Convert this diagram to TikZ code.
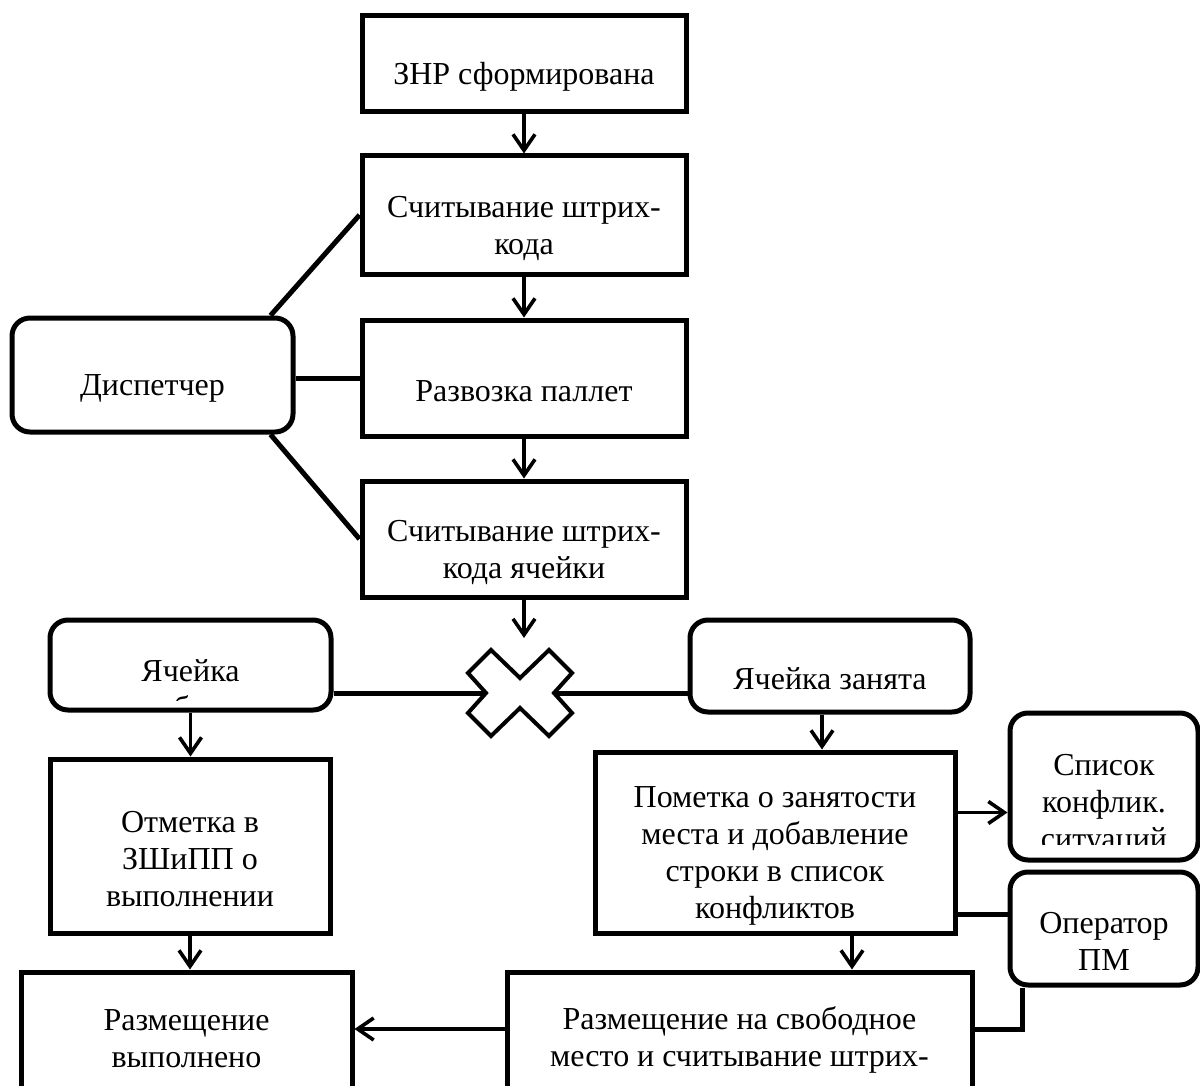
\documentclass[tikz,border=0pt]{standalone}
\usepackage{fontspec}
\setmainfont{Liberation Serif}
\usetikzlibrary{positioning,arrows.meta}

\tikzset{
  stepbox/.style={draw, line width=2.5pt, minimum width=162pt, minimum height=58pt, inner sep=0pt},
  rolebox/.style={stepbox, rounded corners=9pt},
  boxtext/.style={align=center, inner sep=0pt},
  lowtext/.style={boxtext, yshift=-6.5pt},
  link/.style={line width=2.5pt},
  flow/.style={line width=1.8pt, -{Straight Barb[length=8pt,width=11pt]}},
}

\begin{document}
\begin{tikzpicture}[x=0.5pt, y=-0.5pt, every node/.style={font=\fontsize{16pt}{18.5pt}\selectfont}]
\useasboundingbox (0,0) rectangle (1200,1086);
\clip (0,0) rectangle (1200,1086);

\node[stepbox, minimum height=48pt, label={[lowtext]center:ЗНР сформирована}] (znr) at (524,64) {};
\node[stepbox, minimum height=59pt, below=19.5pt of znr, label={[lowtext]center:Считывание штрих-\\кода}] (scan) {};
\node[stepbox, below=20.5pt of scan, label={[lowtext]center:Развозка паллет}] (haul) {};
\node[stepbox, below=20pt of haul, label={[lowtext]center:Считывание штрих-\\кода ячейки}] (scancell) {};
\node[rolebox, minimum width=140.5pt, minimum height=57pt, label={[lowtext]center:Диспетчер}] (disp) at (152.5,375) {};

\draw[flow] (znr) -- (scan);
\draw[flow] (scan) -- (haul);
\draw[flow] (haul) -- (scancell);
\draw[link] ([xshift=-12.5pt]disp.north east) -- (scan.west);
\draw[link] (disp.east |- haul) -- (haul.west);
\draw[link] ([xshift=-12.5pt]disp.south east) -- (scancell.west);

\coordinate (cross) at (520,693);
\coordinate (crosstop) at ([yshift=27.5pt]cross);
\draw[flow] (scancell.south) -- (scancell.south |- crosstop);
\draw[line width=2pt, shift={(cross)}] (0,-15) -- (29,-43) -- (52,-20) -- (34,0) -- (52,20) -- (29,43) -- (0,15)
  -- (-29,43) -- (-52,20) -- (-34,0) -- (-52,-20) -- (-29,-43) -- cycle;

\node[rolebox, minimum width=140.5pt, minimum height=45pt] (free) at (190.5,665) {};
\begin{scope}
\clip ([yshift=-4pt]free.north west) rectangle ([yshift=6pt]free.south east);
\node[boxtext] (freetext) at (190.5,692) {Ячейка\\свободна};
\end{scope}
\node[rolebox, minimum width=140pt, minimum height=46pt, label={[lowtext]center:Ячейка занята}] (busy) at (830,666) {};
\draw[link] (free.east |- cross) -- ([xshift=-17pt]cross);
\draw[link] ([xshift=17pt]cross) -- (busy.west |- cross);

\node[stepbox, minimum width=140pt, minimum height=87pt, label={[lowtext]center:Отметка в\\ЗШиПП о\\выполнении}] (note) at (190,846) {};
\node[stepbox, minimum width=165.5pt, minimum height=69pt, label={[boxtext, yshift=1.25pt]center:Размещение\\выполнено}] (done) at (186.5,1041) {};
\draw[flow] (free.south) -- (free.south |- note.north);
\draw[flow] (note.south) -- (note.south |- done.north);

\node[stepbox, minimum width=180pt, minimum height=90.5pt, label={[lowtext]center:Пометка о занятости\\места и добавление\\строки в список\\конфликтов}] (mark) at (775,842.5) {};
\node[rolebox, minimum width=94pt, minimum height=73.5pt] (conflicts) at (1104,786.5) {};
\begin{scope}
\clip (conflicts.north west) rectangle ([yshift=9pt]conflicts.south east);
\node[boxtext] (conflictstext) at (1104,805) {Список\\конфлик.\\ситуаций};
\end{scope}
\node[rolebox, minimum width=94pt, minimum height=56.5pt, label={[lowtext]center:Оператор\\ПМ}] (operator) at (1104,928.5) {};
\node[stepbox, minimum width=232.5pt, minimum height=69pt, label={[boxtext, yshift=0.75pt]center:Размещение на свободное\\место и считывание штрих-}] (place) at (739.5,1041) {};

\coordinate (downmark) at ([xshift=-4pt]busy.south);
\draw[flow] (downmark) -- (downmark |- mark.north);
\coordinate (tolist) at ([yshift=15pt]mark.east);
\draw[flow] (tolist) -- (tolist -| conflicts.west);
\coordinate (toop) at ([yshift=-36pt]mark.east);
\draw[link] (toop) -- (toop -| operator.west);
\coordinate (downplace) at ([xshift=38.5pt]mark.south);
\draw[flow] (downplace) -- (downplace |- place.north);
\draw[link] ([xshift=7.5pt]operator.south west) |- ([yshift=6pt]place.east);
\coordinate (toplace) at ([yshift=6pt]place.west);
\draw[flow] (toplace) -- (toplace -| done.east);
\end{tikzpicture}
\end{document}
